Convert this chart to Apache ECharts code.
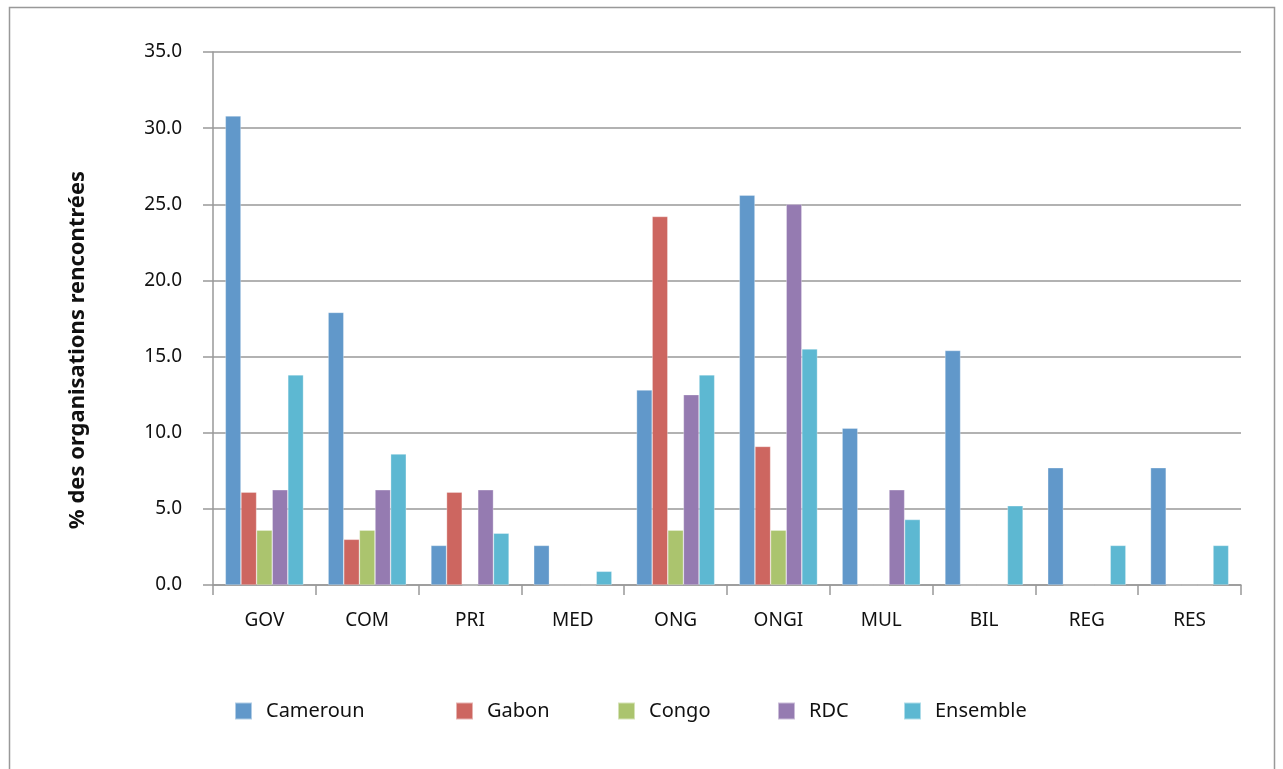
<!DOCTYPE html>
<html>
<head>
<meta charset="utf-8">
<script src="https://cdn.jsdelivr.net/npm/echarts@6/dist/echarts.min.js"></script>
<style>
html,body{margin:0;padding:0;background:#fff;}
#main{width:1283px;height:769px;}
</style>
</head>
<body>
<div id="main"></div>
<script>
var categories = ['GOV','COM','PRI','MED','ONG','ONGI','MUL','BIL','REG','RES'];
var seriesNames = ['Cameroun','Gabon','Congo','RDC','Ensemble'];
var cameroun = [30.8, 17.9, 2.6, 2.6, 12.8, 25.6, 10.3, 15.4, 7.7, 7.7];
var gabon    = [6.1, 3.0, 6.1, 0, 24.2, 9.1, 0, 0, 0, 0];
var congo    = [3.6, 3.6, 0, 0, 3.6, 3.6, 0, 0, 0, 0];
var rdc      = [6.25, 6.25, 6.25, 0, 12.5, 25.0, 6.25, 0, 0, 0];
var ensemble = [13.8, 8.6, 3.4, 0.9, 13.8, 15.5, 4.3, 5.2, 2.6, 2.6];
var yTicks = [0, 5, 10, 15, 20, 25, 30, 35];
var yTitle = '% des organisations rencontrées';

var colors = ['#6198CA','#CD6660','#ABC46E','#957BB1','#5DB8D2'];
var values = [cameroun, gabon, congo, rdc, ensemble];
var legendLeft = [234, 455, 617, 777, 903];
var font = 'Noto Sans';

var chart = echarts.init(document.getElementById('main'), null, {renderer:'canvas'});
var series = seriesNames.map(function(n,i){
  return {
    name:n, type:'bar', data:values[i], barGap:'0%', barCategoryGap:'24%',
    itemStyle:{color:colors[i], borderColor:'rgba(255,255,255,0.5)', borderWidth:0.6},
    emphasis:{disabled:true}
  };
});
var legends = seriesNames.map(function(n,i){
  return {
    data:[n], left:legendLeft[i], top:701, itemWidth:17, itemHeight:17, itemGap:0, padding:0,
    icon:'rect', selectedMode:false,
    textStyle:{fontFamily:font, fontSize:20, color:'#111', padding:[0,0,0,9]}
  };
});
chart.setOption({
  animation:false,
  backgroundColor:'#fff',
  color:colors,
  graphic:[
    {type:'rect', shape:{x:9.5,y:7.5,width:1265,height:780}, style:{fill:'none', stroke:'#999', lineWidth:1.5}, silent:true},
    {type:'text', x:78, y:350, rotation:Math.PI/2, silent:true,
     style:{text:yTitle, fontFamily:font, fontSize:22, fontWeight:'bold', fill:'#111', align:'center', verticalAlign:'middle'}}
  ],
  legend:legends,
  grid:{left:213, right:42, top:52, bottom:184, containLabel:false},
  xAxis:{
    type:'category', data:categories, boundaryGap:true,
    axisLine:{lineStyle:{color:'#999', width:1.5}},
    axisTick:{show:true, length:10, lineStyle:{color:'#999', width:1.5}},
    axisLabel:{fontFamily:font, fontSize:19, color:'#111', margin:26}
  },
  yAxis:{
    type:'value', min:yTicks[0], max:yTicks[yTicks.length-1], interval:5,
    axisLine:{show:true, lineStyle:{color:'#999', width:1.5}},
    axisTick:{show:true, length:10, lineStyle:{color:'#999', width:1.5}},
    splitLine:{show:true, lineStyle:{color:'#999', width:1.5}},
    axisLabel:{fontFamily:font, fontSize:19, color:'#111', margin:31, formatter:function(v){return v.toFixed(1);}}
  },
  series:series
});
</script>
</body>
</html>
